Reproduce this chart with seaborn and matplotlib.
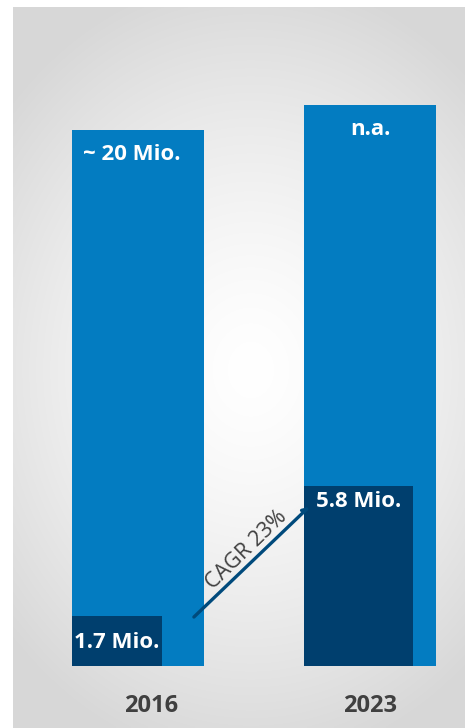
import numpy as np
import matplotlib
matplotlib.use('Agg')
import matplotlib.pyplot as plt
import matplotlib.transforms as mtransforms
import seaborn as sns

# data (Mio.)
years = ['2016', '2023']
total_height = [17.3, 18.1]       # drawn height of the outer bars
total_labels = ['~ 20 Mio.', 'n.a.']
inner_height = [1.6, 5.8]
inner_labels = ['1.7 Mio.', '5.8 Mio.']
cagr_text = 'CAGR 23%'

light_blue = '#037cc1'
dark_blue = '#003f6e'
text_grey = '#404040'

sns.set_theme(style='white')
plt.rcParams['font.family'] = ['Open Sans', 'DejaVu Sans']

W, H = 465, 728
fig = plt.figure(figsize=(W / 100, H / 100), dpi=100)
fig.patch.set_facecolor('white')

# 배경 그라데이션
bg = fig.add_axes([13 / W, 0, 452 / W, 721 / H])
yy, xx = np.mgrid[0:721, 0:452]
r = np.sqrt(((xx - 237) / 330.0) ** 2 + ((yy - 363) / 400.0) ** 2)
shade = 255 - 40 * np.clip(r, 0, 1) ** 1.4
img = np.dstack([shade, shade, shade]).astype(np.uint8)
bg.imshow(img, aspect='auto', interpolation='bilinear')
bg.set_axis_off()

# 막대
ax = fig.add_axes([13 / W, 62 / H, 452 / W, 659 / H])
ax.set_facecolor('none')
bar_w = 132 / 232
inner_w = [90 / 232, 109 / 232]

sns.barplot(x=years, y=total_height, color=light_blue, saturation=1,
            width=bar_w, linewidth=0, ax=ax)
idx = np.arange(len(years))
ax.bar(idx - bar_w / 2, inner_height, width=inner_w, align='edge',
       color=dark_blue, linewidth=0, zorder=3)

ax.set_xlim(-125 / 232, 327 / 232)
ax.set_ylim(0, 659 / 31)

# 라벨
for i, lab in enumerate(total_labels):
    ax.annotate(lab, (i - 0.028 * (i == 0), total_height[i]), xytext=(0, -22),
                textcoords='offset points', ha='center', va='baseline',
                color='white', fontsize=16, fontweight='bold', zorder=5)

inner_offsets = [-23, -15]
for i, lab in enumerate(inner_labels):
    ax.annotate(lab, (i - bar_w / 2 + inner_w[i] / 2, inner_height[i]),
                xytext=(0, inner_offsets[i]), textcoords='offset points',
                ha='center', va='baseline', color='white', fontsize=16,
                fontweight='bold', zorder=5)

# CAGR 선
ax.plot([0.241, 0.727], [1.58, 5.06], color='#004a7c', lw=2.4,
        solid_capstyle='round', zorder=4)
ax.plot([0.705, 0.727], [5.02, 5.06], color='#004a7c', lw=2.4,
        solid_capstyle='round', zorder=4)
ax.text(0.47, 3.74, cagr_text, rotation=44, ha='center', va='center',
        rotation_mode='anchor', color=text_grey, fontsize=15.5, zorder=5)

# 축 정리
ax.set_yticks([])
ax.set_xlabel('')
ax.tick_params(axis='x', length=0, pad=20, labelsize=17, labelcolor=text_grey)
for t in ax.get_xticklabels():
    t.set_fontweight('bold')
for t, dx in zip(ax.get_xticklabels(), [13, 0]):
    t.set_transform(t.get_transform() +
                    mtransforms.ScaledTranslation(dx / 100, 0, fig.dpi_scale_trans))
for s in ax.spines.values():
    s.set_visible(False)

fig.savefig('out.png', dpi=100)
